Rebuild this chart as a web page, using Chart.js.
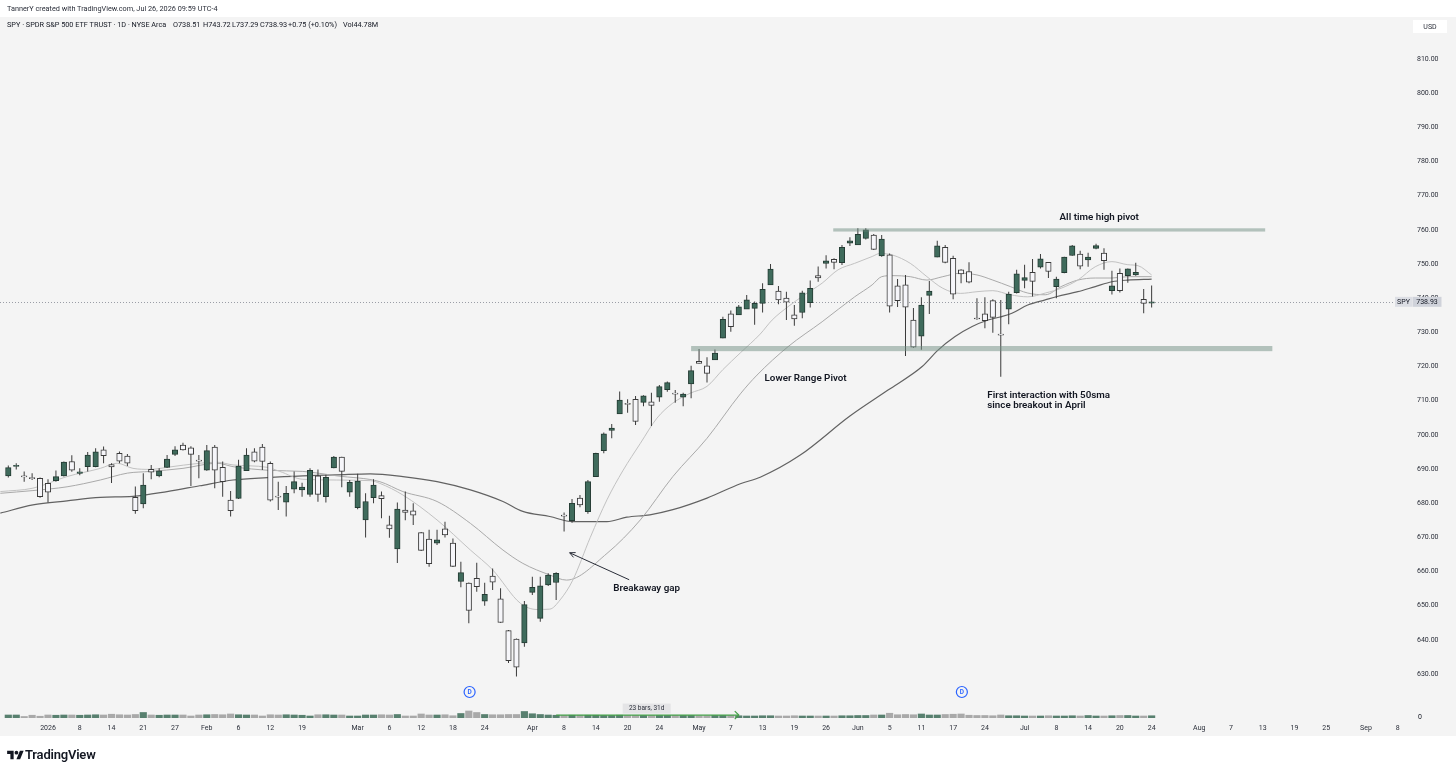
<!DOCTYPE html>
<html>
<head>
<meta charset="utf-8">
<script src="https://cdn.jsdelivr.net/npm/chart.js"></script>
<style>
html,body{margin:0;padding:0;background:#fff;width:1456px;height:771px;overflow:hidden;}
#c{position:absolute;left:0;top:0;}
.t{position:absolute;font-family:Roboto,'Liberation Sans',sans-serif;color:#131722;white-space:nowrap;line-height:1;}
#h1{left:7px;top:5px;font-size:7.3px;color:#2a2e39;}
.h2{top:21px;font-size:7.3px;}
#logo{position:absolute;left:7px;top:749px;}
#logotxt{left:25px;top:748px;font-size:13px;font-weight:600;letter-spacing:-0.2px;}
</style>
</head>
<body>
<canvas id="c" width="1456" height="771"></canvas>
<div class="t" id="h1">TannerY created with TradingView.com, Jul 26, 2026 09:59 UTC-4</div>
<div class="t h2" style="left:7px">SPY · SPDR S&amp;P 500 ETF TRUST · 1D · NYSE Arca</div>
<div class="t h2" style="left:173px">O738.51</div>
<div class="t h2" style="left:203px">H743.72</div>
<div class="t h2" style="left:232px">L737.29</div>
<div class="t h2" style="left:260px">C738.93</div>
<div class="t h2" style="left:288px">+0.75 (+0.10%)</div>
<div class="t h2" style="left:343px">Vol44.78M</div>
<svg id="logo" width="17" height="13" viewBox="0 0 36 28"><path d="M14 22H7V11H0V4h14v18zM28 22h-8l7.5-18h8L28 22z" fill="#131722"/><circle cx="20" cy="8" r="4" fill="#131722"/></svg>
<div class="t" id="logotxt">TradingView</div>
<script>
// ---------- data ----------
const open = [688.0,690.8,687.9,687.4,687.3,685.8,686.6,688.0,692.2,688.7, 690.7,690.7,695.6,691.3,694.6,693.8,681.7,679.8,689.9,688.0, 690.5,694.3,697.0,696.2,692.5,689.7,696.4,690.5,680.9,681.4, 689.5,695.0,696.4,691.7,682.0,680.3,684.1,683.9,682.6,688.0, 681.9,690.3,693.5,683.2,678.7,675.1,681.6,682.2,673.7,666.6, 678.0,677.8,671.4,669.5,668.3,672.5,668.3,657.1,656.6,658.0, 651.3,658.7,652.0,642.7,640.2,639.1,653.9,646.3,656.1,656.8, 676.4,674.9,681.5,677.5,687.8,695.4,701.3,706.1,709.1,710.4, 709.5,709.7,711.0,713.2,712.1,711.0,714.9,721.5,720.2,721.9, 728.3,735.4,735.1,736.8,737.0,738.5,743.9,742.1,740.0,735.1, 735.8,738.7,746.6,750.2,751.4,750.4,756.1,755.6,757.5,758.5, 752.4,752.7,743.6,743.9,733.6,728.9,740.8,752.0,754.9,751.7, 748.3,747.8,734.1,735.4,739.3,729.4,736.8,741.6,745.2,747.6, 749.1,750.5,743.4,747.5,752.5,752.9,751.2,754.6,753.2,742.2, 747.3,746.6,746.8,739.7,738.51];
const high = [691.0,691.7,689.3,688.8,687.5,687.0,689.6,692.2,694.0,690.2, 695.0,696.1,696.6,691.7,695.1,694.4,684.9,688.8,691.2,690.2, 694.1,696.7,697.7,696.7,694.1,697.0,697.0,692.2,683.6,692.7, 696.1,696.1,697.3,692.2,686.3,685.0,689.3,686.0,690.2,689.9, 688.3,693.8,693.6,686.8,688.6,682.9,687.0,683.4,676.3,680.2, 683.4,680.0,671.6,672.2,672.2,674.6,669.7,662.9,656.8,662.6, 656.7,660.9,655.1,642.9,640.4,651.4,658.5,658.5,659.5,659.8, 677.3,681.2,682.4,686.8,694.8,700.7,703.2,712.7,710.4,711.4, 711.6,712.3,714.6,715.6,713.1,712.3,720.2,725.1,722.7,725.0, 734.6,736.4,738.0,740.9,739.0,744.4,750.0,743.6,741.9,738.0, 742.2,745.2,749.3,752.6,751.7,755.6,757.8,760.5,760.5,758.8, 758.5,753.1,745.6,746.8,737.1,740.3,745.0,756.8,755.6,752.4, 748.5,750.5,740.0,740.3,739.7,739.5,741.9,748.3,749.8,751.5, 752.9,750.6,746.3,752.1,755.6,753.9,753.3,755.9,754.6,748.0, 748.7,748.7,750.4,742.7,743.72];
const low = [687.5,689.9,686.3,686.8,681.6,680.2,686.3,687.8,689.2,688.2, 689.3,690.5,691.7,685.9,691.7,690.9,676.9,678.5,687.0,687.6, 690.3,693.8,695.4,685.0,687.3,689.5,684.4,681.9,676.1,681.2, 689.5,692.0,689.7,680.5,678.0,676.1,682.9,681.9,681.9,680.4, 680.2,690.2,684.7,681.9,678.2,670.0,680.0,675.6,669.9,662.5, 675.0,673.6,666.0,661.4,667.8,670.0,661.3,655.4,644.9,654.1, 650.0,654.6,645.0,633.2,629.3,638.0,653.1,645.3,655.8,651.7, 671.7,674.3,678.8,676.9,687.8,694.6,699.0,706.1,706.5,702.9, 708.4,702.6,709.7,712.6,709.4,708.4,710.7,720.9,715.3,721.9, 728.3,730.2,735.1,736.8,732.2,735.8,743.9,738.2,733.6,731.9, 734.1,737.3,744.8,748.7,748.5,749.7,755.3,755.6,757.2,754.1, 752.1,735.8,737.4,723.1,725.5,724.9,735.4,752.0,750.2,739.7, 744.4,744.4,733.7,731.2,729.9,717.0,732.4,741.4,742.9,740.5, 748.7,745.9,740.0,747.3,752.4,748.5,749.2,754.3,748.3,741.1, 741.7,744.5,746.6,735.6,737.29];
const close = [690.4,691.0,687.7,687.2,681.9,683.2,687.8,692.0,689.7,689.2, 694.1,695.0,693.9,690.6,692.3,691.7,677.8,685.3,689.1,689.5, 692.9,695.6,695.6,694.3,692.3,695.4,689.7,686.3,677.8,690.9, 694.1,692.3,692.2,680.9,681.8,682.9,686.3,684.7,689.6,682.6, 687.6,693.5,689.3,686.1,686.5,680.5,685.3,681.3,672.5,678.3, 677.3,676.5,666.2,662.3,669.3,670.7,661.5,659.7,648.6,655.6, 653.3,656.9,645.1,633.9,632.0,650.3,655.4,655.8,659.0,659.5, 676.2,680.0,679.5,686.3,694.6,700.3,702.0,710.2,708.9,703.9, 711.4,708.6,714.1,715.3,711.9,711.9,718.8,720.9,718.0,723.9, 733.8,731.7,737.5,739.5,738.5,742.6,748.5,739.5,738.8,733.9, 741.6,742.9,745.9,750.9,750.5,754.9,756.8,758.7,760.0,754.3, 757.3,737.7,739.3,737.4,725.7,738.0,742.1,755.3,750.5,741.2, 747.1,744.7,733.9,733.4,734.4,729.2,741.2,747.1,746.0,744.9, 751.5,747.8,745.6,752.0,755.3,749.4,752.0,755.4,751.0,743.6, 742.2,748.6,747.6,738.5,738.93];
const volume = [60,60,30,55,35,60,55,60,60,55, 60,65,60,75,65,60,70,110,60,55, 60,60,60,40,60,65,70,65,80,65, 60,60,40,65,60,65,60,55,40,65, 65,60,60,40,40,60,60,65,60,70, 40,40,80,60,60,65,45,90,140,110, 70,65,65,70,70,130,85,70,60,55, 50,55,55,55,55,50,50,55,50,50, 50,50,50,50,50,50,50,45,45,50, 50,50,45,40,40,45,45,40,40,45, 40,40,40,40,40,45,45,50,50,60, 60,95,65,70,65,80,60,60,70,75, 80,55,50,50,45,60,45,45,40,40, 40,45,40,40,45,40,50,40,40,45, 50,50,40,40,45];

// moving averages (bar position, value)
const ma10Idx = [0,4.1,8.4,12.6,14.7,16.7,18.9,21,25.1,27.3,29.3,33.6,35.2,38.1,46.6,47.8,50.7,55,59.2,62,65.5,67.6,69.2,70.5,72.1,74.3,76.4,78.4,80.6,82.7,84.7,86.9,89,91,93.2,95.7,97.2,99.2,101.3,103.5,105.5,107.6,109.8,110.8,112.4,114.6,116.7,118.7,120.9,123,125,127.2,129.4,131.6,133.7,135.7,137.9,140,142,143.3,145];
const ma10Val = [683.4,684.4,687.8,690.2,691.7,690.2,689.9,690.5,691.7,692.0,691.2,690.5,689.3,687.0,686.6,685.8,682.4,675.1,666.3,660.5,650.7,648.9,649.0,651.7,657.5,670.0,681.0,689.5,697.5,704.9,709.3,712.2,714.2,719.1,724.0,729.5,733.6,737.5,741.0,744.4,748.3,750.2,752.2,753.1,752.6,750.2,746.3,742.9,741.4,741.9,742.2,741.0,740.4,741.5,743.0,745.3,749.2,750.7,749.8,749.5,746.8];
const ma20Idx = [0,4.1,8.4,12.6,16,18.9,23,27.3,29.3,34,38.1,42.4,47.8,50.7,55,59.2,63.3,65.8,69.2,71.3,76.4,80.6,84.7,89,93.2,95.3,99.2,103.5,107.6,109.8,111,112.4,114.6,116.7,118.7,120.9,123,125,127.2,129.4,131.6,133.7,135.7,137.9,140,142,145];
const ma20Val = [682.9,683.7,684.8,686.8,688.8,689.3,690.2,691.7,690.7,689.6,689.3,688.0,686.3,683.4,680.5,674.1,666.3,662.4,659.0,657.5,665.3,675.1,687.8,699.0,712.0,717.5,725.8,733.1,740.4,743.9,746.3,746.6,746.3,745.3,746.3,747.3,746.8,745.3,743.4,741.5,741.0,743.5,745.3,745.9,745.9,746.3,746.3];
const ma50Idx = [0,4.1,8.4,12.6,16.7,21,25.1,29.3,33.6,38.1,42.4,46.6,50.7,55,59.2,63.3,65.8,69.2,72.1,76.4,78.9,81.8,84.7,89,93.2,95.7,100.7,107,111.8,116.1,118.1,120.2,122.4,124.4,125.9,127.4,129.4,131.6,133.1,135.7,137.9,140,142,145];
const ma50Val = [677.1,679.5,680.7,681.7,682.0,683.4,685.1,686.8,687.5,688.0,688.3,688.6,687.8,686.3,683.9,680.5,677.6,676.1,674.6,674.6,675.9,676.6,678.1,681.5,685.7,687.6,694.0,705.5,713.1,720.0,724.8,728.7,731.7,733.6,734.5,735.6,738.0,739.5,740.5,741.9,743.4,744.8,745.3,745.6];

// axis ticks
const tickIdx = [6,10,14,18,22,26,30,34,38,45,49,53,57,61,67,71,75,79,83,88,92,96,100,104,108,112,116,120,124,129,133,137,141,145,151,155,159,163,167,172,176];
const tickLbl = ['2026','8','14','21','27','Feb','6','12','19','Mar','6','12','18','24','Apr','8','14','20','24','May','7','13','19','26','Jun','5','11','17','24','Jul','8','14','20','24','Aug','7','13','19','25','Sep','8'];
const priceTicks = [630,640,650,660,670,680,690,700,710,720,730,740,750,760,770,780,790,800,810];
const lastPrice = 738.93;
const symbol = 'SPY';

// ---------- chart ----------
const PANE = '#f4f4f4';
const UP_FILL = '#3f6b5c', UP_EDGE = '#243b33';
const DN_FILL = '#f6f6fa', DN_EDGE = '#3a3a3a';
Chart.defaults.font.family = "Roboto, 'Liberation Sans', sans-serif";

const pos = open.map((_, i) => i + 1);
const up = pos.map((_, i) => close[i] >= open[i]);

const wickData = pos.map((x, i) => ({x, y: [low[i], high[i]]}));
const bodyData = pos.map((x, i) => ({x, y: [Math.min(open[i], close[i]), Math.max(open[i], close[i])]}));
const volData = pos.map((x, i) => ({x, y: volume[i]}));
const toPts = (a, b) => a.map((x, i) => ({x, y: b[i]}));

const overlay = {
  id: 'overlay',
  beforeDraw(ch) {
    const g = ch.ctx; g.save();
    g.fillStyle = '#ffffff'; g.fillRect(0, 0, ch.width, ch.height);
    g.fillStyle = PANE; g.fillRect(0, 17, ch.width, 719);
    g.restore();
  },
  beforeDatasetsDraw(ch) {
    const g = ch.ctx, ca = ch.chartArea;
    const y = Math.round(ch.scales.y.getPixelForValue(lastPrice)) + 0.5;
    g.save(); g.strokeStyle = '#9a9da6'; g.lineWidth = 1; g.setLineDash([1, 2]);
    g.beginPath(); g.moveTo(ca.left, y); g.lineTo(ca.right, y); g.stroke(); g.restore();
  },
  afterDatasetsDraw(ch) {
    const g = ch.ctx, sx = ch.scales.x, sy = ch.scales.y, ca = ch.chartArea;
    const X = v => sx.getPixelForValue(v), Y = v => sy.getPixelForValue(v);
    g.save();
    // pivot zones
    g.fillStyle = 'rgba(112,142,130,0.5)';
    [[104.9, 159.3, 759.5, 760.45], [87.0, 160.2, 724.5, 726.0]].forEach(z => {
      g.fillRect(X(z[0]), Y(z[3]), X(z[1]) - X(z[0]), Y(z[2]) - Y(z[3]));
    });
    // notes
    g.fillStyle = '#131722'; g.textBaseline = 'middle';
    g.font = "600 9.8px Roboto, 'Liberation Sans', sans-serif";
    const notes = [
      ['All time high pivot', 138.4, 763.5, 'center'],
      ['Lower Range Pivot', 96.25, 716.35, 'left'],
      ['First interaction with 50sma', 124.3, 711.4, 'left'],
      ['since breakout in April', 124.3, 708.45, 'left'],
      ['Breakaway gap', 77.2, 655.1, 'left']
    ];
    notes.forEach(n => { g.textAlign = n[3]; g.fillText(n[0], X(n[1]), Y(n[2])); });
    // arrow
    const ax0 = X(79.2), ay0 = Y(657.6), ax1 = X(71.7), ay1 = Y(665.5);
    g.strokeStyle = '#2a2e39'; g.lineWidth = 1;
    g.beginPath(); g.moveTo(ax0, ay0); g.lineTo(ax1, ay1); g.stroke();
    const ang = Math.atan2(ay0 - ay1, ax0 - ax1);
    g.beginPath();
    g.moveTo(ax1 + 6 * Math.cos(ang - 0.45), ay1 + 6 * Math.sin(ang - 0.45));
    g.lineTo(ax1, ay1);
    g.lineTo(ax1 + 6 * Math.cos(ang + 0.45), ay1 + 6 * Math.sin(ang + 0.45));
    g.stroke();
    // dividend markers
    [59.1, 121.1].forEach(v => {
      const cx = X(v), cy = Y(624.75);
      g.beginPath(); g.arc(cx, cy, 5.5, 0, Math.PI * 2);
      g.fillStyle = PANE; g.fill(); g.strokeStyle = '#2962ff'; g.lineWidth = 1.2; g.stroke();
      g.fillStyle = '#2962ff'; g.font = "600 6.5px Roboto, sans-serif"; g.textAlign = 'center';
      g.fillText('D', cx, cy + 0.5);
    });
    // date range measurement
    const my = Y(618.0), mx0 = X(70), mx1 = X(93);
    g.strokeStyle = '#43a047'; g.lineWidth = 1.2;
    g.beginPath(); g.moveTo(mx0, my); g.lineTo(mx1, my); g.stroke();
    g.beginPath(); g.moveTo(mx1 - 4, my - 4); g.lineTo(mx1, my); g.lineTo(mx1 - 4, my + 4); g.stroke();
    const bx = X(81.4), by = Y(619.9);
    g.fillStyle = '#e4e4e6'; g.fillRect(bx - 24, by - 5, 48, 10);
    g.fillStyle = '#2a2e39'; g.font = "6.5px Roboto, sans-serif"; g.textAlign = 'center';
    g.fillText('23 bars, 31d', bx, by);
    // price axis: USD box, last price label, volume zero
    g.fillStyle = '#ffffff'; g.fillRect(1413, 20, 34, 13);
    g.fillStyle = '#2a2e39'; g.font = "7px Roboto, sans-serif"; g.textAlign = 'center';
    g.fillText('USD', 1430, 26.8);
    const ly = Y(lastPrice);
    g.fillStyle = '#dcdee4'; g.fillRect(1395, ly - 5, 17, 10);
    g.fillStyle = '#cfd2da'; g.fillRect(1412.5, ly - 5, 29, 10);
    g.fillStyle = '#131722'; g.textAlign = 'center';
    g.fillText(symbol, 1403.5, ly + 0.5);
    g.fillText(lastPrice.toFixed(2), 1427, ly + 0.5);
    g.textAlign = 'left'; g.fillText('0', 1418, ca.bottom - 1);
    g.restore();
  }
};

new Chart(document.getElementById('c'), {
  type: 'bar',
  data: {
    datasets: [
      {type: 'bar', label: 'body', data: bodyData, grouped: false, order: 0,
       barThickness: 5.5, minBarLength: 1, borderSkipped: false, borderWidth: 1,
       backgroundColor: up.map(u => u ? UP_FILL : DN_FILL),
       borderColor: up.map(u => u ? UP_EDGE : DN_EDGE)},
      {type: 'bar', label: 'wick', data: wickData, grouped: false, order: 1,
       barThickness: 1, inflateAmount: 0, borderWidth: 0, backgroundColor: '#3a3a3a'},
      {type: 'line', label: 'SMA10', data: toPts(ma10Idx, ma10Val), order: 2,
       borderColor: '#c2c2c2', borderWidth: 1, pointRadius: 0, cubicInterpolationMode: 'monotone'},
      {type: 'line', label: 'SMA20', data: toPts(ma20Idx, ma20Val), order: 2,
       borderColor: '#aaaaaa', borderWidth: 1, pointRadius: 0, cubicInterpolationMode: 'monotone'},
      {type: 'line', label: 'SMA50', data: toPts(ma50Idx, ma50Val), order: 2,
       borderColor: '#626262', borderWidth: 1.2, pointRadius: 0, cubicInterpolationMode: 'monotone'},
      {type: 'bar', label: 'Volume', data: volData, yAxisID: 'yv', grouped: false, order: 3,
       barThickness: 6.5, borderWidth: 0,
       backgroundColor: up.map(u => u ? '#58806f' : '#a9a9a9')}
    ]
  },
  options: {
    responsive: false, animation: false,
    layout: {padding: {top: 17, bottom: 35, left: 0, right: 0}, autoPadding: false},
    plugins: {legend: {display: false}, tooltip: {enabled: false}},
    scales: {
      x: {type: 'linear', min: -0.045, max: 175.4, offset: false,
          grid: {display: false, drawTicks: true, tickLength: 6}, border: {display: false},
          afterBuildTicks: s => { s.ticks = tickIdx.map(v => ({value: v})); },
          afterFit: s => { s.height = 18; },
          ticks: {autoSkip: false, maxRotation: 0, padding: 0, color: '#2a2e39', font: {size: 7},
                  callback: v => { const k = tickIdx.indexOf(v); return k >= 0 ? tickLbl[k] : ''; }}},
      y: {position: 'right', min: 617.14, max: 822.29,
          grid: {display: false, drawTicks: true, tickLength: 24}, border: {display: false},
          afterBuildTicks: s => { s.ticks = priceTicks.map(v => ({value: v})); },
          afterFit: s => { s.width = 63; },
          ticks: {padding: 0, color: '#2a2e39', font: {size: 7}, callback: v => Number(v).toFixed(2)}},
      yv: {display: false, min: 0, max: 14000}
    }
  },
  plugins: [overlay]
});
</script>
</body>
</html>
